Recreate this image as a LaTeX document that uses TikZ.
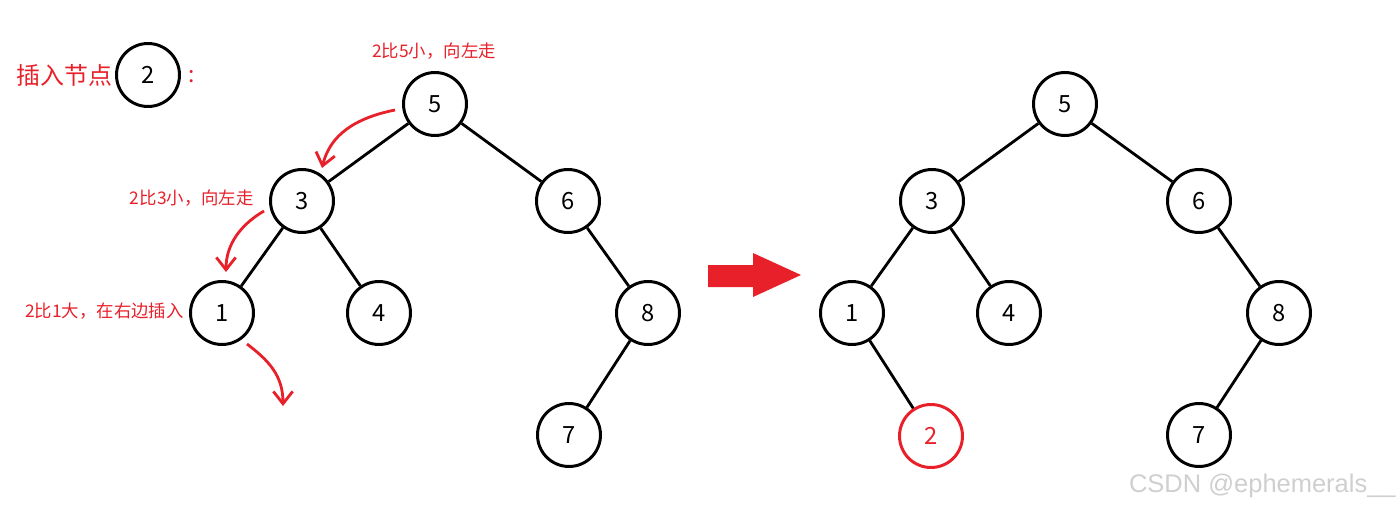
\documentclass[tikz,border=0pt]{standalone}
\usepackage{fontspec}
\setmainfont{Noto Sans CJK SC}
\newfontfamily\wmfont{Liberation Sans}
\usetikzlibrary{arrows.meta}
\definecolor{myred}{HTML}{E8202A}
\definecolor{wmgray}{HTML}{CFCFCF}
\begin{document}
\begin{tikzpicture}[x=0.02cm,y=-0.02cm,
  tn/.style={circle,draw=black,line width=1.7pt,minimum size=1.26cm,inner sep=0pt,font=\fontsize{13.5}{15}\selectfont},
  rn/.style={tn,draw=myred,text=myred},
  edge/.style={line width=1.6pt},
  lab/.style={text=myred,font=\fontsize{9.9}{11}\selectfont,inner sep=0pt},
  curv/.style={draw=myred,line width=1.6pt,-{Straight Barb[length=7pt,width=11pt,line width=1.6pt]}}]
\useasboundingbox (0,0) rectangle (1400,507);
% insert node
\node[anchor=west,text=myred,font=\fontsize{13.6}{15}\selectfont,inner sep=0pt] (ins) at (16,75) {插入节点};
\node[tn] (n2) at (148,75) {2};
\node[text=myred,font=\fontsize{13}{15}\selectfont,inner sep=0pt] (colon) at (192,77) {:};
% left tree
\node[tn] (a5) at (435,104) {5};
\node[tn] (a3) at (302,201) {3};
\node[tn] (a6) at (568,201) {6};
\node[tn] (a1) at (222,313) {1};
\node[tn] (a4) at (379,313) {4};
\node[tn] (a8) at (648,313) {8};
\node[tn] (a7) at (569,435) {7};
\draw[edge] (a5) -- (a3);
\draw[edge] (a5) -- (a6);
\draw[edge] (a3) -- (a1);
\draw[edge] (a3) -- (a4);
\draw[edge] (a6) -- (a8);
\draw[edge] (a8) -- (a7);
% labels
\node[lab] (l1) at (434,51) {2比5小，向左走};
\node[lab,anchor=east] (l2) at (254,198) {2比3小，向左走};
\node[lab,anchor=east] (l3) at (184,311) {2比1大，在右边插入};
% curved arrows
\coordinate (c1s) at (395,110);
\coordinate (c1e) at (322,168);
\draw[curv] (c1s) .. controls (355,118) and (330,135) .. (c1e);
\coordinate (c2s) at (264,211);
\coordinate (c2e) at (226,272);
\draw[curv] (c2s) .. controls (240,225) and (226,245) .. (c2e);
\coordinate (c3s) at (247,344);
\coordinate (c3e) at (283,406);
\draw[curv] (c3s) .. controls (268,360) and (283,375) .. (c3e);
% big arrow
\fill[myred] (708,265) -- (753,265) -- (753,253) -- (801,275) -- (753,297) -- (753,287) -- (708,287) -- cycle;
% right tree
\node[tn] (b5) at (1065,104) {5};
\node[tn] (b3) at (932,201) {3};
\node[tn] (b6) at (1199,201) {6};
\node[tn] (b1) at (852,313) {1};
\node[tn] (b4) at (1009,313) {4};
\node[tn] (b8) at (1279,313) {8};
\node[tn] (b7) at (1199,435) {7};
\node[rn] (b2) at (931,436) {2};
\draw[edge] (b5) -- (b3);
\draw[edge] (b5) -- (b6);
\draw[edge] (b3) -- (b1);
\draw[edge] (b3) -- (b4);
\draw[edge] (b6) -- (b8);
\draw[edge] (b8) -- (b7);
\draw[edge] (b1) -- (b2);
% watermark
\node[anchor=east,text=wmgray,font=\wmfont\fontsize{14.5}{16}\selectfont,inner sep=0pt] (wm) at (1396,486) {CSDN @ephemerals\_\_};
\end{tikzpicture}
\end{document}
